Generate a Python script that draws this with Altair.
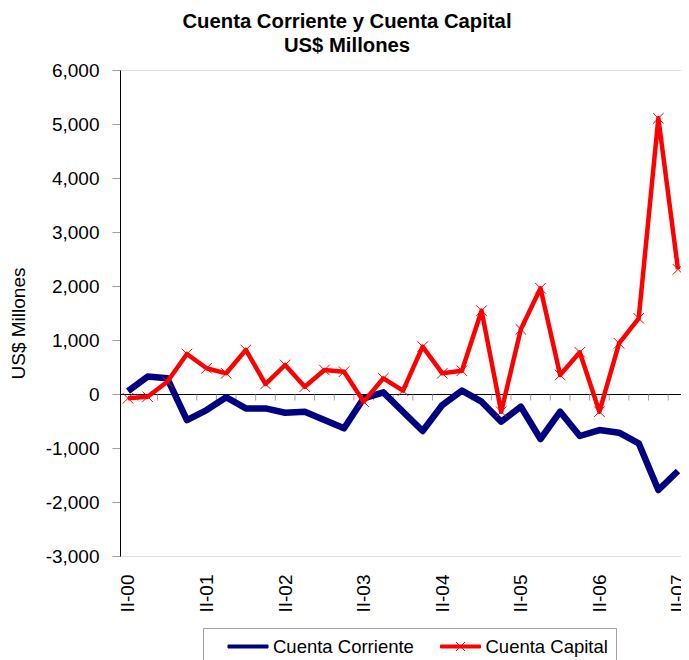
import json
import altair as alt
import pandas as pd

FONT = "Liberation Sans"

quarters = ["II-00", "III-00", "IV-00", "I-01", "II-01", "III-01", "IV-01", "I-02",
            "II-02", "III-02", "IV-02", "I-03", "II-03", "III-03", "IV-03", "I-04",
            "II-04", "III-04", "IV-04", "I-05", "II-05", "III-05", "IV-05", "I-06",
            "II-06", "III-06", "IV-06", "I-07", "II-07"]

corriente = [55, 322, 291, -484, -298, -60, -267, -267, -347, -329, -481, -636, -80, 31,
             -328, -685, -204, 62, -142, -513, -235, -833, -328, -778, -667, -716, -913,
             -1778, -1426]

capital = [-80, -50, 228, 741, 476, 383, 815, 185, 537, 135, 444, 413, -142, 291, 61,
           876, 383, 431, 1543, -328, 1198, 1958, 352, 772, -328, 939, 1402, 5106, 2309]

series_names = ["Cuenta Corriente", "Cuenta Capital"]
series_colors = ["#000080", "#FF0000"]
y_ticks = [-3000, -2000, -1000, 0, 1000, 2000, 3000, 4000, 5000, 6000]

n = len(quarters)
rows = []
for i, q in enumerate(quarters):
    rows.append({"x": i, "q": q, "y": corriente[i], "serie": series_names[0]})
for i, q in enumerate(quarters):
    rows.append({"x": i, "q": q, "y": capital[i], "serie": series_names[1]})
df = pd.DataFrame(rows)

ticks_df = pd.DataFrame({"x": [i + 0.5 for i in range(n - 1)], "y": [0] * (n - 1)})
zero_df = pd.DataFrame({"y": [0]})

x_scale = alt.Scale(domain=[-0.407, 28.153], nice=False, zero=False)
y_scale = alt.Scale(domain=[-3000, 6000], nice=False)

label_expr = "%s[datum.value]" % json.dumps(quarters)
x_axis = alt.Axis(values=list(range(0, n, 4)), labelExpr=label_expr, labelAngle=270,
                  labelFontSize=19, labelFont=FONT, labelColor="black", labelPadding=18,
                  domain=False, ticks=False, grid=False, title=None,
                  labelOverlap=False, labelFlush=False)
y_axis = alt.Axis(values=y_ticks, format=",.0f",
                  labelExpr="replace(datum.label, '\u2212', '-')",
                  labelFontSize=19, labelFont=FONT,
                  labelColor="black", labelPadding=13, tickSize=8, tickColor="#a0a0a0",
                  domainColor="black", grid=False, title="US$ Millones", titleFont=FONT,
                  titleFontSize=19, titleFontWeight="normal", titleColor="black",
                  titleAngle=270, titleX=-102, titleY=253, titleAlign="center",
                  titleBaseline="middle")

X = alt.X("x:Q", scale=x_scale, axis=x_axis)
Y = alt.Y("y:Q", scale=y_scale, axis=y_axis)

color_scale = alt.Scale(domain=series_names, range=series_colors)
line_path = "M-2,-0.15H2V0.15H-2Z"
x_path = "M-0.45,-0.45L0.45,0.45M-0.45,0.45L0.45,-0.45"
shape_scale = alt.Scale(domain=series_names, range=[line_path, line_path + x_path])

legend = alt.Legend(title=None, orient="none", legendX=83, legendY=558,
                    direction="horizontal", labelFont=FONT, labelFontSize=18.5,
                    labelColor="black", symbolSize=400, symbolStrokeWidth=1,
                    symbolOpacity=1, columnPadding=9.5, labelOffset=14.5, padding=8,
                    strokeColor="#a0a0a0", symbolOffset=26.5,
                    labelExpr="datum.label == '%s' ? datum.label + '\u00a0\u00a0' : datum.label"
                    % series_names[1])

zero_line = alt.Chart(zero_df).mark_rule(color="black", strokeWidth=1, yOffset=0.5).encode(y=Y)

ticks = alt.Chart(ticks_df).mark_tick(orient="vertical", size=6, thickness=1, yOffset=3.5,
                                      color="#a0a0a0", opacity=1).encode(x=X, y=Y)

blue = alt.Chart(df).transform_filter(
    alt.datum.serie == series_names[0]
).mark_line(strokeWidth=6.5, strokeJoin="round", color=series_colors[0]).encode(x=X, y=Y)

red = alt.Chart(df).transform_filter(
    alt.datum.serie == series_names[1]
).mark_line(strokeWidth=4.5, strokeJoin="round", color=series_colors[1]).encode(x=X, y=Y)

markers = alt.Chart(df).transform_filter(
    alt.datum.serie == series_names[1]
).mark_point(shape="M-1,-1L1,1M-1,1L1,-1", size=110, strokeWidth=1,
             color=series_colors[1], filled=False, opacity=1).encode(x=X, y=Y)

legend_layer = alt.Chart(df).transform_filter("false").mark_point(
    filled=True, strokeWidth=1, opacity=1
).encode(
    x=X, y=Y,
    color=alt.Color("serie:N", scale=color_scale, legend=legend),
    stroke=alt.Stroke("serie:N", scale=color_scale, legend=legend),
    shape=alt.Shape("serie:N", scale=shape_scale, legend=legend),
)

chart = alt.layer(zero_line, ticks, blue, red, markers, legend_layer).properties(
    width=561, height=486,
    autosize=alt.AutoSizeParams(type="none"),
    padding={"left": 112, "top": 62, "right": 0, "bottom": 104},
    title=alt.TitleParams(text=["Cuenta Corriente y Cuenta Capital", "US$ Millones"],
                          font=FONT, fontSize=20.3, fontWeight="bold", color="black",
                          anchor="middle", offset=5, lineHeight=24, dx=-53.5),
).configure_view(stroke=None).configure(background="white")

chart.save("out.html", embed_options={"renderer": "svg", "actions": False})
